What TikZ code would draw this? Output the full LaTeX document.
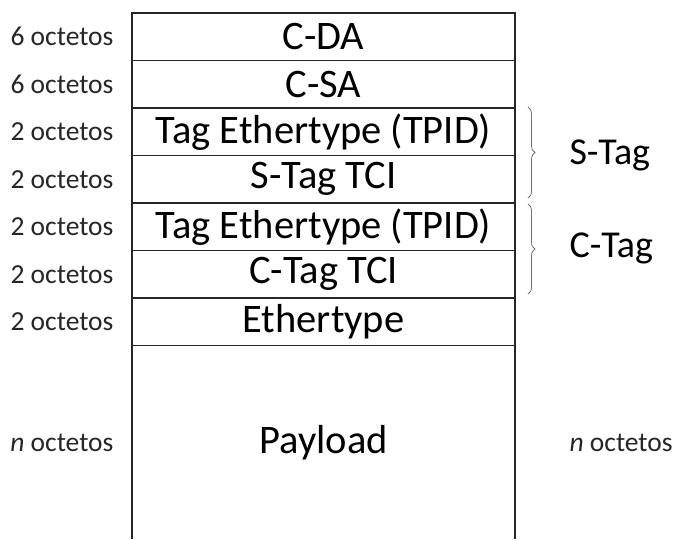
\documentclass[tikz,border=0pt]{standalone}
\usepackage{fontspec}
\setmainfont{Carlito}
\usetikzlibrary{decorations.pathreplacing}
\begin{document}
\begin{tikzpicture}[x=1pt,y=-1pt,
  field/.style={draw=black!85, line width=1.2pt, minimum width=383pt, minimum height=47.5pt,
    inner sep=0pt, outer sep=0pt, anchor=north west, font=\fontsize{40.5}{42}\selectfont},
  size/.style={anchor=east, font=\fontsize{27.5}{29}\selectfont, text=black!85},
  tagbrace/.style={draw=black!55, line width=0.8pt, decorate,
    decoration={brace, amplitude=7pt, raise=0pt}},
  taglabel/.style={anchor=west, font=\fontsize{38}{40}\selectfont}]
\useasboundingbox (0,0) rectangle (676,539);

% header fields, top to bottom
\node[field] (cda)  at (132,13)    {C-DA};
\node[field] (csa)  at (132,60.5)  {C-SA};
\node[field] (stp)  at (132,108)   {Tag Ethertype (TPID)};
\node[field] (stci) at (132,155.5) {S-Tag TCI};
\node[field] (ctp)  at (132,203)   {Tag Ethertype (TPID)};
\node[field] (ctci) at (132,250.5) {C-Tag TCI};
\node[field] (etype) at (132,298)  {Ethertype};
% payload runs off the bottom edge: sides only
\node[field, draw=none, minimum height=193.5pt] (pay) at (132,345.5) {Payload};
\draw[black!85, line width=1.2pt] (pay.north west) -- (pay.south west);
\draw[black!85, line width=1.2pt] (pay.north east) -- (pay.south east);

% field sizes
\node[size] (l1) at (117,36.75)  {6 octetos};
\node[size] (l2) at (117,84.25)  {6 octetos};
\node[size] (l3) at (117,131.75) {2 octetos};
\node[size] (l4) at (117,179.25) {2 octetos};
\node[size] (l5) at (117,226.75) {2 octetos};
\node[size] (l6) at (117,274.25) {2 octetos};
\node[size] (l7) at (117,321.75) {2 octetos};
\node[size] (l8) at (117,443)    {\textit{n} octetos};
\node[size, anchor=west] (r8) at (566,443) {\textit{n} octetos};

% tag groupings
\coordinate (sb1) at (528,107);
\coordinate (sb2) at (528,198);
\coordinate (cb1) at (528,204);
\coordinate (cb2) at (528,294);
\draw[tagbrace] (sb1) -- (sb2) node[midway] (sbm) {};
\draw[tagbrace] (cb1) -- (cb2) node[midway] (cbm) {};
\node[taglabel] (stag) at (566,155) {S-Tag};
\node[taglabel] (ctag) at (566,248) {C-Tag};
\end{tikzpicture}
\end{document}
